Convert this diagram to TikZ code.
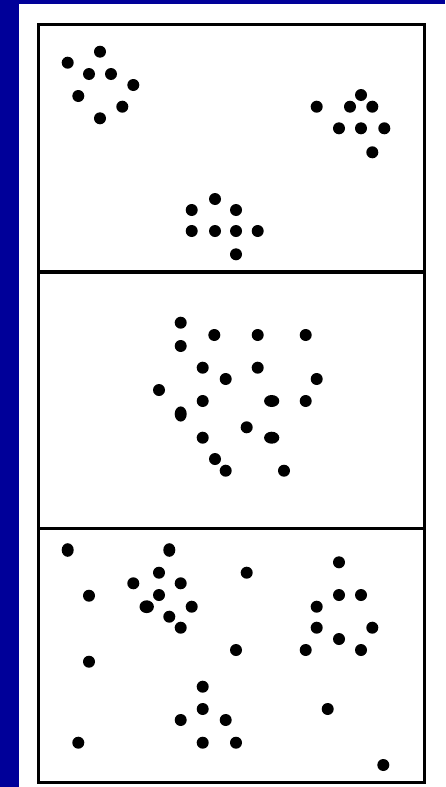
\documentclass[tikz,border=0pt]{standalone}
\definecolor{navy}{RGB}{0,0,153}
\begin{document}
\begin{tikzpicture}[x=1pt,y=-1pt,
  frame/.style={draw=black,line width=3.4pt},
  dot/.style={fill=black}]
\def\r{6}
\useasboundingbox (0,0) rectangle (445,787);
\fill[navy] (0,0) rectangle (445,787);
\fill[white] (19,4) rectangle (445,787);
% frame and dividers
\draw[frame] (38.5,24.2) rectangle (424.7,782.2);
\draw[frame] (38.5,272) -- (424.7,272);
\draw[frame] (38.5,528.6) -- (424.7,528.6);
% panel 1
\foreach \x/\y in {100/51.7, 67.7/62.7, 89/74, 111/74, 133.3/85, 78.3/96, 122.3/106.7, 100/118.3,
  361/95, 316.7/106.7, 350/106.7, 372.3/106.7, 339/128.3, 361/128.3, 384.3/128.3, 372.3/152.3,
  215/199, 191.7/210, 236/210, 191.7/231, 215/231, 236/231, 257.7/231, 236/254.3}
  \fill[dot] (\x,\y) circle (\r);
% panel 2
\foreach \x/\y in {180.7/322.7, 214.3/335, 257.7/335, 305.7/335, 180.7/346, 202.7/367.7, 257.7/367.7,
  225.7/379, 316.7/379, 159/390, 202.7/401, 305.7/401, 246.7/427.3, 202.7/437.7,
  215/459, 225.7/470.7, 284/470.7}
  \fill[dot] (\x,\y) circle (\r);
\fill[dot] (271.7,401) ellipse [x radius=7.6, y radius=6];
\fill[dot] (271.7,437.7) ellipse [x radius=7.6, y radius=6];
\fill[dot] (180.7,414) ellipse [x radius=6, y radius=7.6];
% panel 3
\foreach \x/\y in {339/562.3, 159/572.7, 246.7/572.7, 133.3/583.3, 180.7/583.3, 89/595.7, 159/595,
  339/595, 361/595, 191.7/606.7, 316.7/606.7, 169.3/616.7, 180.7/627.7, 316.7/627.7, 372.3/627.7,
  339/639, 236/650, 305.7/650, 361/650, 89/661.7, 202.7/686.7, 202.7/709, 327.7/709,
  180.7/720, 225.7/720, 78.3/742.7, 202.7/742.7, 236/742.7, 383.3/765}
  \fill[dot] (\x,\y) circle (\r);
\fill[dot] (67.7,550) ellipse [x radius=6, y radius=6.8];
\fill[dot] (169.3,550) ellipse [x radius=6, y radius=6.8];
\fill[dot] (146.7,606.7) ellipse [x radius=7.2, y radius=6.4];
\end{tikzpicture}
\end{document}
